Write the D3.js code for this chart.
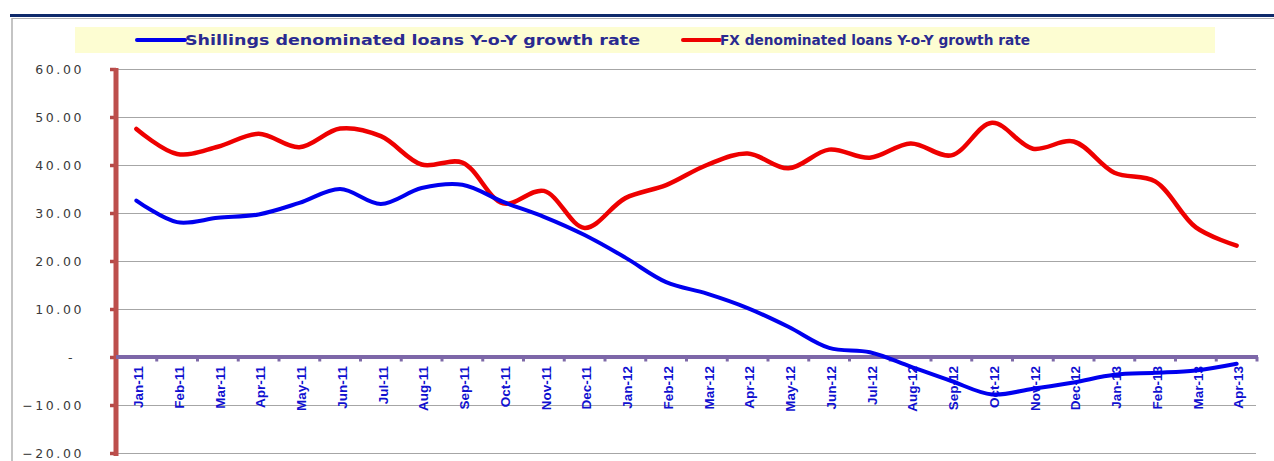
<!DOCTYPE html>
<html>
<head>
<meta charset="utf-8">
<script src="https://cdn.jsdelivr.net/npm/d3@7"></script>
<style>
  html, body { margin: 0; padding: 0; background: #fff; }
  svg { display: block; }
</style>
</head>
<body>
<svg id="chart" width="1274" height="461"></svg>
<script>
const categories = ["Jan-11","Feb-11","Mar-11","Apr-11","May-11","Jun-11","Jul-11","Aug-11","Sep-11","Oct-11","Nov-11","Dec-11",
  "Jan-12","Feb-12","Mar-12","Apr-12","May-12","Jun-12","Jul-12","Aug-12","Sep-12","Oct-12","Nov-12","Dec-12",
  "Jan-13","Feb-13","Mar-13","Apr-13"];
const shillings = [32.6, 28.1, 29.0, 29.7, 32.1, 35.0, 31.9, 35.2, 35.9, 32.3, 29.2, 25.4,
  20.7, 15.6, 13.2, 10.2, 6.3, 1.9, 1.0, -2.0, -5.0, -7.8, -6.6, -5.3,
  -3.7, -3.3, -2.8, -1.4];
const fx = [47.5, 42.3, 43.8, 46.5, 43.7, 47.6, 46.0, 40.1, 40.5, 32.0, 34.6, 26.9,
  33.1, 35.8, 40.0, 42.4, 39.3, 43.2, 41.5, 44.5, 42.0, 48.8, 43.4, 44.9,
  38.4, 36.6, 27.0, 23.2];
const yTicks = [-20, -10, 0, 10, 20, 30, 40, 50, 60];
const seriesNames = ["Shillings denominated loans Y-o-Y growth rate", "FX denominated loans Y-o-Y growth rate"];

const svg = d3.select("#chart");

// frame
svg.append("rect").attr("x", 0).attr("y", 0).attr("width", 1274).attr("height", 461).attr("fill", "#fff");
svg.append("line").attr("x1", 10).attr("x2", 1274).attr("y1", 15.5).attr("y2", 15.5)
  .attr("stroke", "#0e2a6b").attr("stroke-width", 3);
svg.append("line").attr("x1", 12).attr("x2", 1274).attr("y1", 18.5).attr("y2", 18.5)
  .attr("stroke", "#b0b0b0").attr("stroke-width", 1);
svg.append("line").attr("x1", 12).attr("x2", 12).attr("y1", 18).attr("y2", 461)
  .attr("stroke", "#b0b0b0").attr("stroke-width", 1.5);

const x = d3.scaleBand().domain(categories).range([116, 1257]).paddingInner(0).paddingOuter(0);
const y = d3.scaleLinear().domain([-20, 60]).range([453, 69]);

// gridlines
svg.append("g").selectAll("line").data(yTicks.filter(d => d !== 0)).join("line")
  .attr("x1", 116).attr("x2", 1256)
  .attr("y1", d => Math.round(y(d)) + 0.5).attr("y2", d => Math.round(y(d)) + 0.5)
  .attr("stroke", "#a6a6a6").attr("stroke-width", 1);

// legend
svg.append("rect").attr("x", 75).attr("y", 27).attr("width", 1140).attr("height", 26).attr("fill", "#fdfdd2");
const legend = [
  { name: seriesNames[0], color: "#0000ee", x1: 137, x2: 185, tlen: 455 },
  { name: seriesNames[1], color: "#ee0000", x1: 683, x2: 720, tlen: 310 }
];
legend.forEach(l => {
  svg.append("line").attr("x1", l.x1).attr("x2", l.x2).attr("y1", 40).attr("y2", 40)
    .attr("stroke", l.color).attr("stroke-width", 4).attr("stroke-linecap", "round");
  svg.append("text").attr("x", l.x2).attr("y", 45)
    .attr("font-family", "'DejaVu Sans', Verdana, sans-serif").attr("font-weight", "bold")
    .attr("font-size", 13.5).attr("fill", "#2a2a90")
    .attr("textLength", l.tlen).attr("lengthAdjust", "spacingAndGlyphs")
    .text(l.name);
});

// y axis
const yAxis = d3.axisLeft(y).tickValues(yTicks).tickSize(6).tickPadding(26)
  .tickFormat(d => d === 0 ? "-" : d3.format(".2f")(d));
const gy = svg.append("g").attr("transform", "translate(116,0)").call(yAxis);
gy.select(".domain").remove();
gy.selectAll(".tick line").attr("stroke", "#b54a48").attr("stroke-width", 3.5);
gy.selectAll(".tick text")
  .attr("font-family", "'DejaVu Sans', Verdana, sans-serif")
  .attr("font-size", 12.5).attr("fill", "#3a3a3a")
  .attr("letter-spacing", 2.6)
  .attr("dx", d => d === 0 ? -9 : 0);
svg.append("line").attr("x1", 116).attr("x2", 116).attr("y1", 68).attr("y2", 456)
  .attr("stroke", "#bd4f4c").attr("stroke-width", 5);

// x axis
const xAxis = d3.axisBottom(x).tickSize(0).tickPadding(0);
const gx = svg.append("g").attr("transform", `translate(0,${y(0)})`).call(xAxis);
gx.select(".domain").remove();
gx.selectAll(".tick text")
  .attr("transform", "rotate(-90)")
  .attr("text-anchor", "end")
  .attr("x", -9).attr("y", 2).attr("dy", "0.35em")
  .attr("font-family", "'Liberation Sans Narrow', 'Arial Narrow', sans-serif")
  .attr("font-weight", "bold").attr("font-size", 13.5).attr("fill", "#1010d0");
// boundary tick marks
svg.append("g").selectAll("line").data(categories).join("line")
  .attr("x1", d => x(d) + x.step()).attr("x2", d => x(d) + x.step())
  .attr("y1", y(0)).attr("y2", y(0) + 4.5)
  .attr("stroke", "#7f6aa8").attr("stroke-width", 3);
svg.append("line").attr("x1", 116).attr("x2", 1258).attr("y1", y(0)).attr("y2", y(0))
  .attr("stroke", "#7d67a8").attr("stroke-width", 4);

// series lines
const line = d3.line()
  .x((d, i) => x(categories[i]) + x.bandwidth() / 2)
  .y(d => y(d))
  .curve(d3.curveCatmullRom.alpha(0.5));

svg.append("path").datum(fx).attr("d", line).attr("fill", "none")
  .attr("stroke", "#ee0000").attr("stroke-width", 4.5).attr("stroke-linecap", "round").attr("stroke-linejoin", "round");
svg.append("path").datum(shillings).attr("d", line).attr("fill", "none")
  .attr("stroke", "#0000ee").attr("stroke-width", 4).attr("stroke-linecap", "round").attr("stroke-linejoin", "round");
</script>
</body>
</html>
